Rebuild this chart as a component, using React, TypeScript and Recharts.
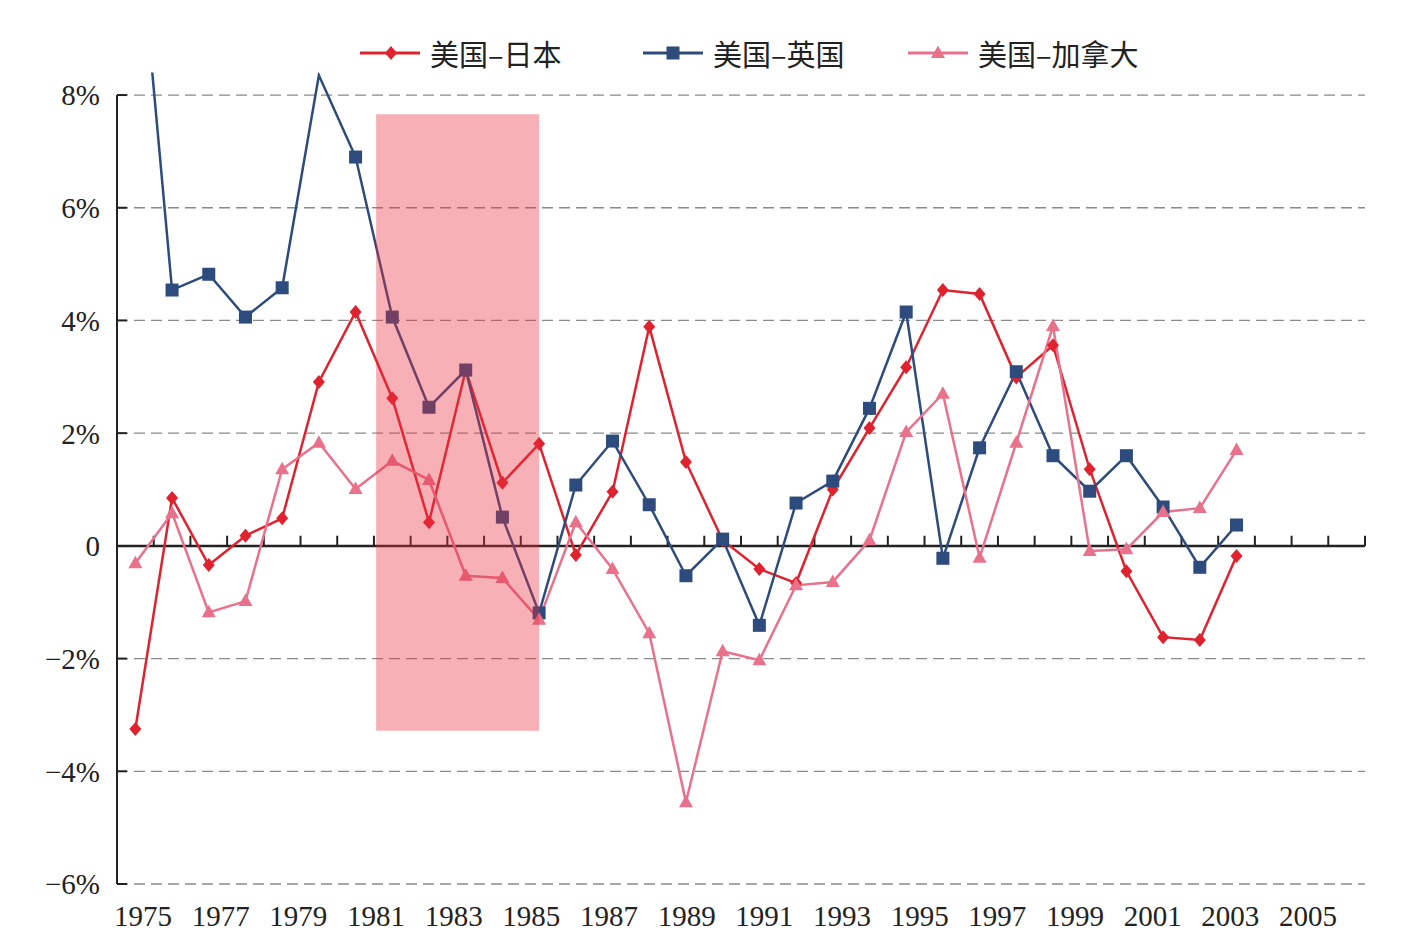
import React from "react";
import {
  ComposedChart,
  Line,
  XAxis,
  YAxis,
  ReferenceLine,
  ReferenceArea,
  Legend,
} from "recharts";

// ---- data ----
const years = [
  1975, 1976, 1977, 1978, 1979, 1980, 1981, 1982, 1983, 1984, 1985, 1986, 1987,
  1988, 1989, 1990, 1991, 1992, 1993, 1994, 1995, 1996, 1997, 1998, 1999, 2000,
  2001, 2002, 2003, 2004, 2005,
];
const usJapan = [
  -3.25, 0.85, -0.34, 0.18, 0.49, 2.91, 4.15, 2.62, 0.42, 3.12, 1.12, 1.81,
  -0.16, 0.96, 3.89, 1.49, 0.1, -0.41, -0.66, 1.0, 2.09, 3.17, 4.54, 4.47, 2.99,
  3.56, 1.36, -0.45, -1.62, -1.67, -0.18,
];
const usUK = [
  11.7, 4.54, 4.82, 4.06, 4.58, 8.35, 6.9, 4.06, 2.46, 3.12, 0.51, -1.19, 1.08,
  1.86, 0.73, -0.53, 0.12, -1.41, 0.76, 1.15, 2.44, 4.15, -0.22, 1.74, 3.09,
  1.6, 0.97, 1.6, 0.69, -0.38, 0.37,
];
const usCanada = [
  -0.31, 0.58, -1.18, -0.98, 1.36, 1.83, 1.01, 1.51, 1.17, -0.53, -0.57, -1.31,
  0.42, -0.41, -1.55, -4.55, -1.87, -2.03, -0.7, -0.64, 0.1, 2.02, 2.7, -0.21,
  1.83, 3.9, -0.09, -0.06, 0.6, 0.67, 1.7,
];
const xTickLabels = [
  1975, 1977, 1979, 1981, 1983, 1985, 1987, 1989, 1991, 1993, 1995, 1997, 1999,
  2001, 2003, 2005,
];
const yTicks = [-6, -4, -2, 0, 2, 4, 6, 8];
const seriesNames = ["美国–日本", "美国–英国", "美国–加拿大"];
const shadedSpan = { x1: 1981.56, x2: 1986.0, y1: -3.28, y2: 7.66 };

// ---- styles ----
const RED = "#E0222F";
const BLUE = "#2D4B7C";
const PINK = "#E9718C";
const AXIS = "#222222";
const SERIF = "Liberation Serif";
const CJK = "'Noto Sans CJK SC', 'Noto Sans', sans-serif";

const dataDomain: [number, number] = [1974.5, 2008.5];
const labelDomain: [number, number] = [1974.331, 2006.467];

const rows = years.map((y, i) => ({
  year: y,
  jp: usJapan[i],
  uk: usUK[i],
  ca: usCanada[i],
}));

const bandEdges: number[] = [];
for (let e = dataDomain[0] + 1; e <= dataDomain[1]; e += 1) bandEdges.push(e);

const diamondDot = (props: any) => {
  const { cx, cy, index } = props;
  if (cx == null || cy == null) return <g key={index} />;
  return (
    <path
      key={index}
      d={`M${cx},${cy - 7}L${cx + 6},${cy}L${cx},${cy + 7}L${cx - 6},${cy}Z`}
      fill={RED}
    />
  );
};
const squareDot = (props: any) => {
  const { cx, cy, index, value } = props;
  const v = Array.isArray(value) ? value[1] : value;
  if (cx == null || cy == null || v > 8) return <g key={index} />;
  return (
    <rect key={index} x={cx - 6.5} y={cy - 6.5} width={13} height={13} fill={BLUE} />
  );
};
const triangleDot = (props: any) => {
  const { cx, cy, index } = props;
  if (cx == null || cy == null) return <g key={index} />;
  return (
    <path
      key={index}
      d={`M${cx},${cy - 7.5}L${cx + 7},${cy + 5}L${cx - 7},${cy + 5}Z`}
      fill={PINK}
    />
  );
};

const legendItems = [
  { name: seriesNames[0], color: RED, shape: "diamond", left: 352 },
  { name: seriesNames[1], color: BLUE, shape: "square", left: 635 },
  { name: seriesNames[2], color: PINK, shape: "triangle", left: 900 },
];

const LegendContent = () => (
  <div style={{ position: "relative", height: 40, width: "100%" }}>
    {legendItems.map((it) => (
      <div
        key={it.name}
        style={{
          position: "absolute",
          left: it.left,
          top: 0,
          height: 40,
          display: "flex",
          alignItems: "center",
        }}
      >
        <svg width={62} height={40} style={{ display: "block" }}>
          <line x1={0} y1={20} x2={60} y2={20} stroke={it.color} strokeWidth={3} />
          {it.shape === "diamond" && (
            <path d="M31,13L37,20L31,27L25,20Z" fill={it.color} />
          )}
          {it.shape === "square" && (
            <rect x={23.5} y={13.5} width={13} height={13} fill={it.color} />
          )}
          {it.shape === "triangle" && (
            <path d="M30,12.5L37,25L23,25Z" fill={it.color} />
          )}
        </svg>
        <span
          style={{
            fontFamily: CJK,
            fontSize: 29,
            color: "#222",
            marginLeft: 8,
            lineHeight: "40px",
            whiteSpace: "nowrap",
          }}
        >
          {it.name}
        </span>
      </div>
    ))}
  </div>
);

const fmtY = (v: number) =>
  v === 0 ? "0" : v < 0 ? `\u2212${Math.abs(v)}%` : `${v}%`;

const YTick = (props: any) => {
  const { x, y, payload } = props;
  return (
    <text
      x={x}
      y={y}
      dy="0.36em"
      textAnchor="end"
      fill="#222"
      style={{ fontFamily: SERIF, fontSize: 29 }}
    >
      {fmtY(payload.value)}
    </text>
  );
};
const XTick = (props: any) => {
  const { x, y, payload } = props;
  return (
    <text
      x={x}
      y={y}
      dy="0.71em"
      textAnchor="middle"
      fill="#222"
      style={{ fontFamily: SERIF, fontSize: 29 }}
    >
      {payload.value}
    </text>
  );
};

export default function App() {
  return (
    <div style={{ width: 1397, height: 930, background: "#fff" }}>
      <ComposedChart
        width={1397}
        height={930}
        data={rows}
        margin={{ top: 24.5, right: 40, bottom: 4, left: 0 }}
      >
        <Legend verticalAlign="top" content={<LegendContent />} />
        <XAxis
          xAxisId="d"
          dataKey="year"
          type="number"
          domain={dataDomain}
          allowDataOverflow
          height={0}
          hide
        />
        <XAxis
          xAxisId="l"
          dataKey="year"
          type="number"
          domain={labelDomain}
          allowDataOverflow
          ticks={xTickLabels}
          interval={0}
          axisLine={false}
          tickLine={false}
          tickSize={0}
          tickMargin={21}
          height={50}
          tick={<XTick />}
        />
        <YAxis
          type="number"
          domain={[-6, 8.4]}
          allowDataOverflow
          ticks={yTicks}
          interval={0}
          width={109}
          axisLine={false}
          tickLine={false}
          tickSize={0}
          tickMargin={17}
          tick={<YTick />}
        />
        {/* dashed horizontal gridlines */}
        {yTicks
          .filter((t) => t !== 0)
          .map((t) => (
            <ReferenceLine
              key={`g${t}`}
              xAxisId="d"
              y={t}
              stroke="#8a8a8a"
              strokeWidth={1.3}
              strokeDasharray="11 6"
            />
          ))}
        {/* y axis line and inner ticks */}
        <ReferenceLine
          xAxisId="d"
          segment={[
            { x: dataDomain[0], y: -6 },
            { x: dataDomain[0], y: 8 },
          ]}
          stroke={AXIS}
          strokeWidth={2}
        />
        {yTicks
          .filter((t) => t !== 0)
          .map((t) => (
            <ReferenceLine
              key={`yt${t}`}
              xAxisId="d"
              segment={[
                { x: dataDomain[0], y: t },
                { x: dataDomain[0] + 0.27, y: t },
              ]}
              stroke={AXIS}
              strokeWidth={2}
            />
          ))}
        {/* zero axis with tick marks */}
        <ReferenceLine xAxisId="d" y={0} stroke={AXIS} strokeWidth={2.5} />
        {bandEdges.map((e) => (
          <ReferenceLine
            key={`xt${e}`}
            xAxisId="d"
            segment={[
              { x: e, y: 0 },
              { x: e, y: 0.18 },
            ]}
            stroke={AXIS}
            strokeWidth={2}
          />
        ))}
        <Line
          xAxisId="d"
          dataKey="jp"
          name={seriesNames[0]}
          stroke={RED}
          strokeWidth={2.5}
          dot={diamondDot}
          activeDot={false}
          isAnimationActive={false}
        />
        <Line
          xAxisId="d"
          dataKey="uk"
          name={seriesNames[1]}
          stroke={BLUE}
          strokeWidth={2.5}
          dot={squareDot}
          activeDot={false}
          isAnimationActive={false}
        />
        <Line
          xAxisId="d"
          dataKey="ca"
          name={seriesNames[2]}
          stroke={PINK}
          strokeWidth={2.5}
          dot={triangleDot}
          activeDot={false}
          isAnimationActive={false}
        />
        <ReferenceArea
          xAxisId="d"
          x1={shadedSpan.x1}
          x2={shadedSpan.x2}
          y1={shadedSpan.y1}
          y2={shadedSpan.y2}
          fill="#E8303F"
          fillOpacity={0.38}
          stroke="none"
          zIndex={1000}
        />
      </ComposedChart>
    </div>
  );
}
